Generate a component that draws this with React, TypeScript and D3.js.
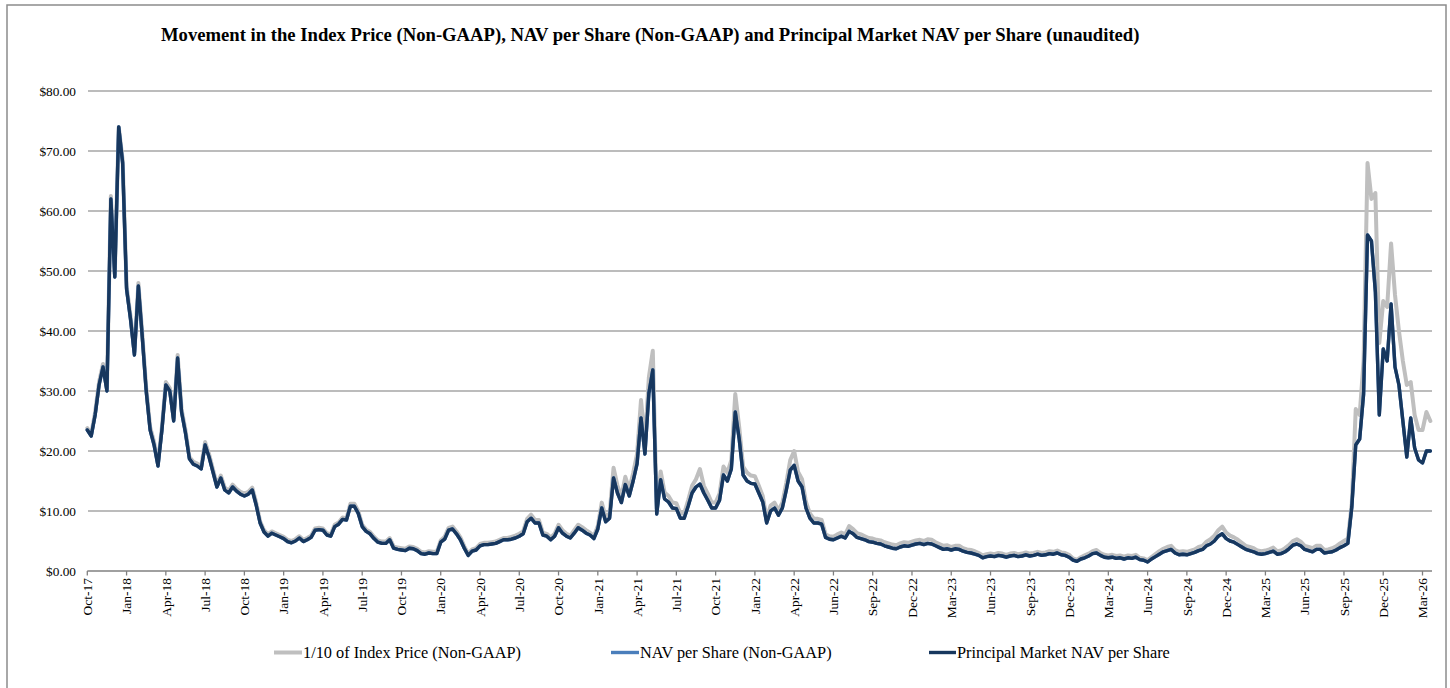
import React from 'react';
import * as d3 from 'd3';

// Tick labels of the category axis (one every 10 samples)
const xLabels: string[] = [
  'Oct-17','Jan-18','Apr-18','Jul-18','Oct-18','Jan-19','Apr-19','Jul-19','Oct-19','Jan-20',
  'Apr-20','Jul-20','Oct-20','Jan-21','Apr-21','Jul-21','Oct-21','Jan-22','Apr-22','Jun-22',
  'Sep-22','Dec-22','Mar-23','Jun-23','Sep-23','Dec-23','Mar-24','Jun-24','Sep-24','Dec-24',
  'Mar-25','Jun-25','Sep-25','Dec-25','Mar-26'
];

const yTicks: number[] = [0, 10, 20, 30, 40, 50, 60, 70, 80];

// Principal Market NAV per Share (10 samples per label interval)
const principalNav: number[] = [
  23.5, 22.5, 26, 31, 34, 30, 62, 49, 74, 68,
  47, 42, 36, 47.5, 39, 30, 23.5, 21, 17.5, 23.5,
  31, 30, 25, 35.5, 26.5, 23, 18.7, 17.8, 17.5, 17,
  21, 19, 16.5, 14, 15.5, 13.5, 13, 14, 13.3, 12.8,
  12.5, 12.8, 13.5, 11, 8, 6.5, 5.8, 6.3, 6, 5.7,
  5.4, 4.9, 4.7, 5.0, 5.5, 4.9, 5.2, 5.6, 6.8, 6.9,
  6.8, 6.0, 5.8, 7.4, 7.8, 8.6, 8.5, 10.8, 10.8, 9.6,
  7.4, 6.6, 6.2, 5.4, 4.8, 4.6, 4.6, 5.2, 3.8, 3.6,
  3.5, 3.4, 3.8, 3.7, 3.4, 2.9, 2.8, 3.0, 2.9, 2.9,
  4.8, 5.3, 6.8, 7.0, 6.2, 5.2, 3.8, 2.6, 3.3, 3.5,
  4.2, 4.4, 4.4, 4.5, 4.6, 4.9, 5.2, 5.2, 5.3, 5.5,
  5.8, 6.2, 8.2, 8.8, 8.0, 8.0, 6.0, 5.8, 5.2, 5.8,
  7.2, 6.3, 5.8, 5.5, 6.3, 7.2, 6.8, 6.3, 6.0, 5.4,
  7.0, 10.5, 8.2, 8.8, 15.5, 13, 11.4, 14.4, 12.5, 15,
  17.9, 25.5, 19.5, 29.6, 33.5, 9.5, 15.2, 12, 11.5, 10.5,
  10.4, 8.8, 8.8, 10.8, 13, 14, 14.5, 13, 11.8, 10.5,
  10.5, 11.8, 16, 15, 17, 26.5, 22, 16, 15, 14.6,
  14.5, 13, 11.5, 8, 10, 10.5, 9.3, 10.5, 13.5, 16.8,
  17.6, 15, 14, 10.5, 8.8, 8.0, 8.0, 7.8, 5.6, 5.3,
  5.2, 5.5, 5.8, 5.5, 6.6, 6.2, 5.6, 5.4, 5.2, 4.9,
  4.8, 4.6, 4.5, 4.2, 4.0, 3.8, 3.7, 4.0, 4.2, 4.1,
  4.3, 4.5, 4.6, 4.4, 4.6, 4.5, 4.2, 3.9, 3.6, 3.7,
  3.5, 3.7, 3.6, 3.3, 3.1, 3.0, 2.8, 2.6, 2.2, 2.4,
  2.5, 2.4, 2.6, 2.5, 2.3, 2.5, 2.6, 2.4, 2.5, 2.7,
  2.5, 2.6, 2.8, 2.6, 2.7, 2.9, 2.8, 3.0, 2.7, 2.6,
  2.3, 1.8, 1.6, 2.0, 2.2, 2.5, 2.9, 3.0, 2.6, 2.3,
  2.2, 2.3, 2.1, 2.2, 2.0, 2.2, 2.1, 2.3, 1.9, 1.8,
  1.5, 2.0, 2.4, 2.8, 3.2, 3.4, 3.6, 3.0, 2.7, 2.8,
  2.7, 2.9, 3.1, 3.4, 3.6, 4.2, 4.5, 5.0, 5.8, 6.2,
  5.4, 5.0, 4.8, 4.4, 4.0, 3.6, 3.4, 3.2, 2.9, 2.8,
  2.9, 3.1, 3.3, 2.8, 2.9, 3.2, 3.7, 4.3, 4.5, 4.2,
  3.6, 3.4, 3.2, 3.6, 3.6, 3.0, 3.1, 3.2, 3.5, 3.9,
  4.2, 4.6, 10.7, 21, 22, 29.5, 56, 55, 46.5, 26,
  37, 35, 44.5, 34, 31, 25, 19, 25.5, 20.5, 18.5,
  18, 20, 20
];

// NAV per Share (Non-GAAP): read as coincident with the Principal Market NAV line
const navPerShare: number[] = principalNav;

// 1/10 of Index Price (Non-GAAP)
const indexTenth: number[] = [
  23.8, 22.8, 26.5, 31.5, 34.5, 30.5, 62.5, 49.5, 74, 68.5,
  47.5, 42.5, 36.5, 48, 39.5, 30.5, 24, 21.5, 18, 24,
  31.5, 30.5, 25.5, 36, 27, 23.5, 19, 18.2, 17.9, 17.4,
  21.5, 19.5, 16.9, 14.4, 15.9, 13.9, 13.4, 14.4, 13.7, 13.2,
  12.9, 13.2, 13.9, 11.4, 8.3, 6.8, 6.1, 6.6, 6.3, 6.0,
  5.7, 5.2, 5.0, 5.3, 5.8, 5.2, 5.5, 5.9, 7.1, 7.2,
  7.1, 6.3, 6.1, 7.7, 8.1, 8.9, 8.8, 11.2, 11.2, 10.0,
  7.7, 6.9, 6.5, 5.7, 5.1, 4.9, 4.9, 5.5, 4.1, 3.9,
  3.8, 3.7, 4.1, 4.0, 3.7, 3.2, 3.1, 3.3, 3.2, 3.2,
  5.1, 5.7, 7.2, 7.4, 6.6, 5.6, 4.1, 2.9, 3.6, 3.8,
  4.5, 4.7, 4.7, 4.8, 4.9, 5.2, 5.5, 5.5, 5.7, 5.9,
  6.2, 6.6, 8.7, 9.4, 8.5, 8.5, 6.4, 6.2, 5.6, 6.2,
  7.7, 6.8, 6.2, 5.9, 6.8, 7.7, 7.3, 6.8, 6.4, 5.8,
  7.5, 11.4, 8.9, 9.6, 17.2, 14.2, 12.4, 15.7, 13.6, 16.3,
  19.5, 28.5, 21.3, 32.3, 36.7, 10.4, 16.6, 13.1, 12.5, 11.4,
  11.3, 9.6, 9.6, 11.8, 14.2, 15.3, 17, 14.2, 12.9, 11.4,
  11.4, 12.9, 17.4, 16.4, 18.5, 29.5, 24, 17.4, 16.4, 15.9,
  15.8, 14.2, 12.5, 8.7, 10.9, 11.4, 10.1, 11.4, 14.7, 18.5,
  20.0, 16.5, 15.3, 11.5, 9.6, 8.7, 8.7, 8.5, 6.1, 5.8,
  5.7, 6.1, 6.4, 6.1, 7.5, 7.0, 6.3, 6.1, 5.8, 5.5,
  5.4, 5.2, 5.1, 4.8, 4.6, 4.4, 4.3, 4.6, 4.8, 4.7,
  4.9, 5.1, 5.2, 5.0, 5.3, 5.2, 4.8, 4.5, 4.2, 4.3,
  4.0, 4.2, 4.2, 3.8, 3.6, 3.5, 3.3, 3.0, 2.6, 2.8,
  2.9, 2.8, 3.0, 2.9, 2.7, 2.9, 3.0, 2.8, 2.9, 3.1,
  2.9, 3.0, 3.2, 3.0, 3.1, 3.3, 3.2, 3.4, 3.1, 3.0,
  2.7, 2.1, 1.9, 2.3, 2.6, 2.9, 3.3, 3.5, 3.0, 2.7,
  2.6, 2.7, 2.5, 2.6, 2.4, 2.6, 2.5, 2.7, 2.2, 2.1,
  1.8, 2.3, 2.8, 3.3, 3.7, 4.0, 4.2, 3.5, 3.2, 3.3,
  3.2, 3.4, 3.6, 4.0, 4.2, 4.9, 5.3, 5.9, 6.8, 7.4,
  6.4, 5.9, 5.6, 5.2, 4.7, 4.2, 4.0, 3.8, 3.4, 3.3,
  3.4, 3.6, 3.9, 3.3, 3.4, 3.8, 4.3, 5.0, 5.3, 4.9,
  4.2, 4.0, 3.8, 4.2, 4.2, 3.5, 3.6, 3.8, 4.1, 4.6,
  5.0, 5.4, 11.3, 27, 26, 35, 68, 62, 63, 38,
  45, 44, 54.6, 46, 40, 35, 31, 31.5, 26, 23.5,
  23.5, 26.5, 25
];

const title = 'Movement in the Index Price (Non-GAAP), NAV per Share (Non-GAAP) and Principal Market NAV per Share (unaudited)';
const legendNames: string[] = ['1/10 of Index Price (Non-GAAP)', 'NAV per Share (Non-GAAP)', 'Principal Market NAV per Share'];

const W = 1450;
const H = 688;
const FONT = '"Liberation Serif", "Times New Roman", serif';

export default function App() {
  const x = d3.scaleLinear().domain([0, 340]).range([87.3, 1422.5]);
  const y = d3.scaleLinear().domain([0, 80]).range([571, 91]);
  const plotRight = 1432;

  const mk = (vals: number[]) =>
    d3.line<number>().x((_, i) => x(i)).y((v) => y(v))(vals) || '';

  const series = [
    { name: legendNames[0], vals: indexTenth, color: '#BFBFBF', width: 4 },
    { name: legendNames[1], vals: navPerShare, color: '#4A7EBB', width: 3.4 },
    { name: legendNames[2], vals: principalNav, color: '#17375E', width: 3.4 },
  ];

  const legendPos = [
    { x1: 274, x2: 302 },
    { x1: 611, x2: 639 },
    { x1: 929, x2: 956 },
  ];

  return (
    <svg width={W} height={H} style={{ position: 'absolute', left: 0, top: 0, background: '#fff' }} fontFamily={FONT}>
      <rect x={0} y={0} width={W} height={H} fill="#fff" />
      <rect x={7} y={5} width={1439} height={700} fill="none" stroke="#8c8c8c" strokeWidth={1.5} />
      <text x={161} y={41} fontSize={18.65} fontWeight="bold" fill="#000" fontFamily={FONT}>{title}</text>

      {yTicks.map((t) => (
        <g key={t}>
          {t > 0 && (
            <line x1={88} x2={plotRight} y1={y(t)} y2={y(t)} stroke="#a6a6a6" strokeWidth={1.3} />
          )}
          <text x={76} y={y(t)} dy="0.35em" textAnchor="end" fontSize={13.3} fill="#000" fontFamily={FONT}>
            {'$' + d3.format('.2f')(t)}
          </text>
        </g>
      ))}

      {series.map((s) => (
        <path key={s.name} d={mk(s.vals)} fill="none" stroke={s.color} strokeWidth={s.width}
          strokeLinejoin="round" strokeLinecap="round" />
      ))}

      <line x1={87.3} x2={plotRight} y1={571} y2={571} stroke="#808080" strokeWidth={1.3} />
      {xLabels.map((lab, k) => {
        const tx = x(k * 10);
        return (
          <g key={lab}>
            <line x1={tx} x2={tx} y1={571} y2={575.5} stroke="#808080" strokeWidth={1.3} />
            <text transform={`translate(${tx},578) rotate(-90)`} dy="0.35em" textAnchor="end" fontSize={13.5} fill="#000" fontFamily={FONT}>
              {lab}
            </text>
          </g>
        );
      })}

      {series.map((s, i) => (
        <g key={'lg' + i}>
          <line x1={legendPos[i].x1} x2={legendPos[i].x2} y1={652.5} y2={652.5} stroke={s.color} strokeWidth={s.width} />
          <text x={legendPos[i].x2 + 1} y={652.5} dy="0.35em" fontSize={16.3} fill="#000" fontFamily={FONT}>{s.name}</text>
        </g>
      ))}
    </svg>
  );
}
